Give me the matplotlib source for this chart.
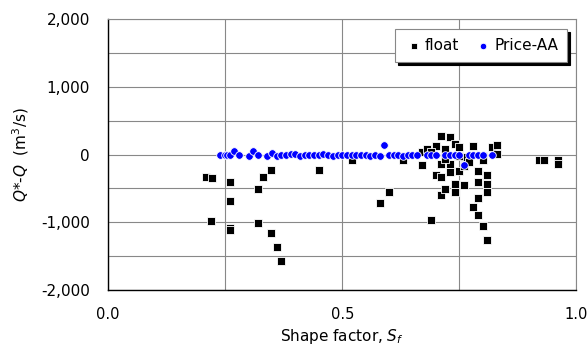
import matplotlib.pyplot as plt
from matplotlib.ticker import MultipleLocator, FuncFormatter

# float method: shape factor vs Q*-Q
float_sf = [0.21, 0.222, 0.22, 0.26, 0.26, 0.26, 0.26, 0.32, 0.32, 0.33, 0.349,
            0.349, 0.36, 0.37, 0.45, 0.52, 0.58, 0.60, 0.63, 0.67, 0.67, 0.68,
            0.69, 0.70, 0.70, 0.71, 0.71, 0.71, 0.71, 0.72, 0.72, 0.73, 0.73,
            0.73, 0.74, 0.74, 0.74, 0.75, 0.75, 0.76, 0.76, 0.76, 0.78, 0.78,
            0.79, 0.79, 0.79, 0.79, 0.80, 0.80, 0.80, 0.81, 0.81, 0.81, 0.81,
            0.82, 0.83, 0.83, 0.92, 0.93, 0.96, 0.96, 0.69, 0.72, 0.77, 0.75]
float_dq = [-334, -344, -983, -408, -693, -1086, -1120, -506, -1012, -334, -231,
            -1155, -1361, -1568, -226, -74, -722, -550, -88, -157, 34, 84,
            -968, -300, 133, 270, -595, -334, -138, -516, 84, 255, -260,
            -138, 157, -432, -560, -236, 108, -447, -162, -39, 133, -781,
            -236, -408, -644, -889, -1052, -15, -88, -1268, -295, -432, -555,
            108, 147, 10, -79, -74, -79, -138, 40, -60, -110, -20]

# Price-AA meter
price_sf = [0.24, 0.25, 0.255, 0.26, 0.27, 0.28, 0.30, 0.31, 0.32, 0.34, 0.35,
            0.36, 0.37, 0.38, 0.39, 0.40, 0.41, 0.42, 0.43, 0.44, 0.45, 0.46,
            0.47, 0.48, 0.49, 0.50, 0.51, 0.52, 0.53, 0.54, 0.55, 0.56, 0.57,
            0.58, 0.59, 0.60, 0.61, 0.62, 0.63, 0.64, 0.65, 0.66, 0.68, 0.69,
            0.70, 0.72, 0.73, 0.74, 0.75, 0.76, 0.77, 0.78, 0.79, 0.80, 0.82]
price_dq = [-5, 0, -10, -5, 49, -10, -20, 49, -5, -20, 20,
            -25, 0, -5, 5, 10, -20, 0, -10, 0, 0, 10,
            -5, -15, 0, -5, 0, -10, 0, -10, 0, -15, 0,
            -20, 142, 0, -10, 0, -15, -5, 0, -5, 0, -10,
            0, 0, -5, 0, 0, -157, 0, 0, 0, 0, 0]

fig, ax = plt.subplots(figsize=(5.87, 3.52), dpi=100)
fig.subplots_adjust(left=0.184, right=0.982, top=0.946, bottom=0.176)

ax.scatter(float_sf, float_dq, marker='s', s=32, c='black', edgecolors='white',
           linewidths=0.6, label='float', zorder=3)
ax.scatter(price_sf, price_dq, marker='o', s=30, c='#0000ff', edgecolors='white',
           linewidths=0.6, label='Price-AA', zorder=4)

ax.set_xlim(0, 1)
ax.set_ylim(-2000, 2000)
ax.xaxis.set_major_locator(MultipleLocator(0.5))
ax.xaxis.set_minor_locator(MultipleLocator(0.25))
ax.yaxis.set_major_locator(MultipleLocator(1000))
ax.yaxis.set_minor_locator(MultipleLocator(500))
ax.yaxis.set_major_formatter(FuncFormatter(lambda v, p: f'{v:,.0f}'))
ax.xaxis.set_major_formatter(FuncFormatter(lambda v, p: f'{v:.1f}'))
ax.grid(True, which='both', color='#888888', linewidth=0.8)
ax.set_axisbelow(True)

ax.tick_params(axis='x', which='both', length=0, pad=12, labelsize=10.5)
ax.tick_params(axis='y', which='both', length=0, pad=13, labelsize=11)
for side in ['top', 'right']:
    ax.spines[side].set_color('#888888')
for side in ['left', 'bottom']:
    ax.spines[side].set_color('black')
    ax.spines[side].set_linewidth(1.0)

ax.set_xlabel('Shape factor, $S_f$', fontsize=11, labelpad=4)
ax.set_ylabel('$Q$*-$Q$  (m$^3$/s)', fontsize=11, labelpad=7)

leg = ax.legend(loc='upper right', ncol=2, fontsize=11, frameon=True, fancybox=False,
                shadow={'color': 'black', 'alpha': 1.0, 'ox': 2, 'oy': -2},
                markerscale=0.85, handletextpad=0.1, columnspacing=1.0,
                handlelength=1.2, borderpad=0.6, borderaxespad=0,
                bbox_to_anchor=(0.98, 0.963))
leg.get_frame().set_edgecolor('#888888')
leg.get_frame().set_linewidth(0.8)

fig.savefig('out.png')
